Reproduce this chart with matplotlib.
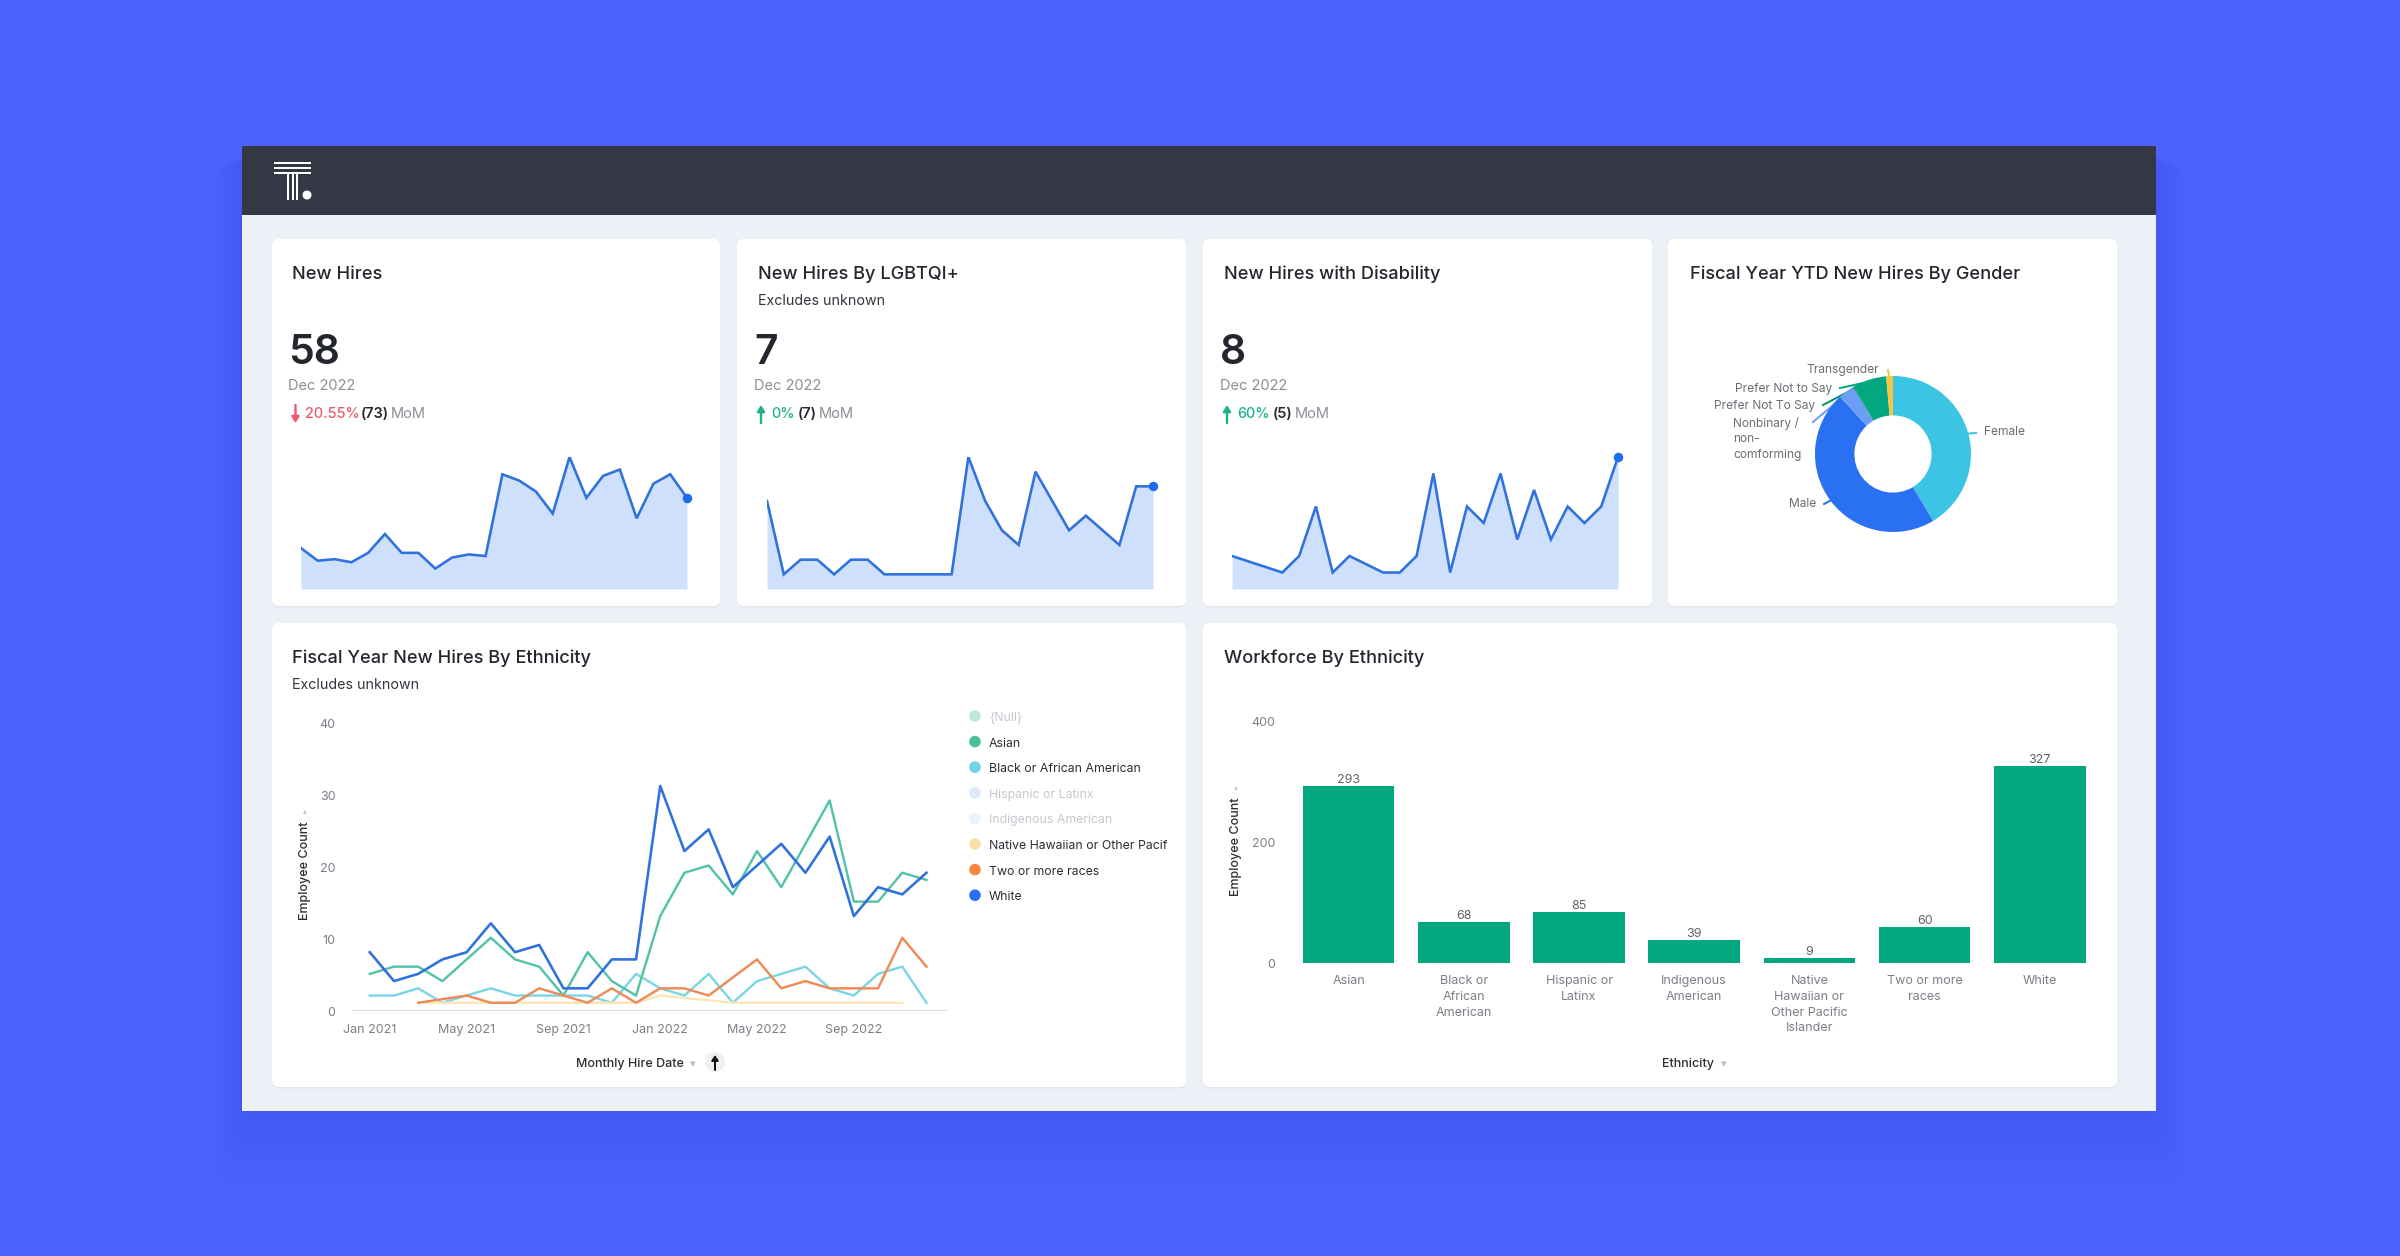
import numpy as np
import matplotlib
matplotlib.use("Agg")
import matplotlib.pyplot as plt
from matplotlib.patches import FancyBboxPatch, Rectangle, Circle
from matplotlib.transforms import Affine2D

plt.rcParams['font.family'] = ['Inter', 'DejaVu Sans']

W, H = 2400, 1256

# sparklines
new_hires = [26, 18, 19, 17, 23, 35, 23, 23, 13, 20, 22, 21, 73, 69, 62, 48, 84, 58, 72, 76, 45, 67, 73, 58]
lgbtq = [6, 1, 2, 2, 1, 2, 2, 1, 1, 1, 1, 1, 9, 6, 4, 3, 8, 6, 4, 5, 4, 3, 7, 7]
disability_months = [0, 3, 4, 5, 6, 7, 9, 10, 11, 12, 13, 14, 15, 16, 17, 18, 19, 20, 21, 22, 23]
disability = [2, 1, 2, 5, 1, 2, 1, 1, 2, 7, 1, 5, 4, 7, 3, 6, 3, 5, 4, 5, 8]

# donut
gender_names = ['Female', 'Male', 'Nonbinary /\nnon-\ncomforming', 'Prefer Not To Say', 'Prefer Not to Say', 'Transgender']
gender_share = [41.4, 46.7, 3.3, 0.2, 7.0, 1.4]
gender_colors = ['#3CC4E4', '#2970F2', '#6D9EF7', '#0A8F6F', '#03A77F', '#F6C644']

# line chart
months = list(range(24))
month_ticks = [0, 4, 8, 12, 16, 20]
month_labels = ['Jan 2021', 'May 2021', 'Sep 2021', 'Jan 2022', 'May 2022', 'Sep 2022']
white = [8, 4, 5, 7, 8, 12, 8, 9, 3, 3, 7, 7, 31, 22, 25, 17, 20, 23, 19, 24, 13, 17, 16, 19]
asian = [5, 6, 6, 4, 7, 10, 7, 6, 2, 8, 4, 2, 13, 19, 20, 16, 22, 17, 23, 29, 15, 15, 19, 18]
black = [2, 2, 3, 1, 2, 3, 2, 2, 2, 2, 1, 5, 3, 2, 5, 1, 4, 5, 6, 3, 2, 5, 6, 1]
two_months = [2, 4, 5, 6, 7, 8, 9, 10, 11, 12, 13, 14, 16, 17, 18, 19, 20, 21, 22, 23]
two_more = [1, 2, 1, 1, 3, 2, 1, 3, 1, 3, 3, 2, 7, 3, 4, 3, 3, 3, 10, 6]
native_months = [2, 3, 4, 5, 6, 7, 8, 9, 10, 11, 12, 15, 16, 17, 18, 19, 20, 21, 22]
native = [1, 1, 1, 1, 1, 1, 1, 1, 1, 1, 2, 1, 1, 1, 1, 1, 1, 1, 1]

legend_names = ['{Null}', 'Asian', 'Black or African American', 'Hispanic or Latinx', 'Indigenous American',
                'Native Hawaiian or Other Pacif', 'Two or more races', 'White']
legend_colors = ['#BCE8DA', '#48BF9D', '#70D2EA', '#DDE8FB', '#E8F3FB', '#FBE2A6', '#FB8640', '#2970F2']
legend_faded = [True, False, False, True, True, False, False, False]

# bars
ethnicity = ['Asian', 'Black or\nAfrican\nAmerican', 'Hispanic or\nLatinx', 'Indigenous\nAmerican',
             'Native\nHawaiian or\nOther Pacific\nIslander', 'Two or more\nraces', 'White']
workforce = [293, 68, 85, 39, 9, 60, 327]

BLUE_LINE = '#2F72DE'
GRAY = '#7C7F87'
DARK = '#23262D'


def px_axes(left, top, right, bottom):
    return fig.add_axes([left / W, 1 - bottom / H, (right - left) / W, (bottom - top) / H])


def pt(px):
    return px * 0.72


def put(x, y, s, **kw):
    # centre of a line sits a bit low in the reference, so nudge it
    kw.setdefault('va', 'center')
    return bg.text(x, y + 2, s, **kw)


def spark(left, right, xs, ys):
    ax = px_axes(left, 457, right, 589)
    ax.fill_between(xs, ys, 0, color='#CFE0FC', lw=0)
    ax.plot(xs, ys, color=BLUE_LINE, lw=pt(2.6), solid_joinstyle='miter')
    ax.plot(xs[-1:], ys[-1:], 'o', color='#1E6BEE', ms=pt(9.5), mew=0, clip_on=False)
    ax.set_xlim(xs[0], xs[-1])
    ax.set_ylim(0, max(ys))
    ax.axis('off')


def kpi(x, value, delta_x, delta, delta_color, up, prev_x, prev, mom_x):
    put(x, 347, value, fontsize=pt(41), fontweight=600, color=DARK, va='center_baseline')
    put(x, 384, 'Dec 2022', fontsize=pt(14.6), color='#8B8E95')
    ax_x = delta_x - 10
    start, end = (423, 405) if up else (405, 423)
    bg.annotate('', xy=(ax_x, end), xytext=(ax_x, start),
                arrowprops=dict(arrowstyle='-|>,head_width=0.22,head_length=0.35', color=delta_color, lw=pt(2.4),
                                shrinkA=0, shrinkB=0))
    put(delta_x, 412, delta, fontsize=pt(14.4), fontweight=500, color=delta_color)
    put(prev_x, 412, prev, fontsize=pt(14.4), fontweight=600, color=DARK)
    put(mom_x, 412, 'MoM', fontsize=pt(14.6), color='#8B8E95')


fig = plt.figure(figsize=(W / 100, H / 100), dpi=100, facecolor='#4D62FF')
bg = fig.add_axes([0, 0, 1, 1])
bg.set_xlim(0, W)
bg.set_ylim(H, 0)
bg.axis('off')

# soft shadow round the dashboard
for grow in range(70, 0, -7):
    bg.add_patch(FancyBboxPatch((242 - grow / 2, 146 + grow / 4), 1914 + grow, 965 + grow, boxstyle='round,pad=0,rounding_size=30',
                                fc='#2F3FD8', ec='none', alpha=0.025))

bg.add_patch(Rectangle((242, 146), 1914, 965, fc='#EDF0F7', ec='none'))
bg.add_patch(Rectangle((242, 146), 1914, 69, fc='#333844', ec='none'))

# logo
for y in [163, 168, 173]:
    bg.add_patch(Rectangle((274, y - 1), 37, 2.2, fc='white', ec='none'))
for x in [288, 293, 297]:
    bg.add_patch(Rectangle((x - 1, 173), 2.2, 27, fc='white', ec='none'))
bg.add_patch(Circle((307, 195), 4.5, fc='white', ec='none'))

# cards
for l, t, r, b in [(272, 239, 720, 606), (737, 239, 1186, 606), (1203, 239, 1652, 606), (1668, 239, 2117, 606),
                   (272, 623, 1186, 1087), (1203, 623, 2117, 1087)]:
    bg.add_patch(FancyBboxPatch((l, t + 1.5), r - l, b - t, boxstyle='round,pad=0,rounding_size=7', fc='#E2E5EC', ec='none'))
    bg.add_patch(FancyBboxPatch((l, t), r - l, b - t, boxstyle='round,pad=0,rounding_size=7', fc='white', ec='none'))

titles = [(292, 270.5, 'New Hires'), (758, 270.5, 'New Hires By LGBTQI+'), (1224, 270.5, 'New Hires with Disability'),
          (1690, 270.5, 'Fiscal Year YTD New Hires By Gender'), (292, 654.5, 'Fiscal Year New Hires By Ethnicity'),
          (1224, 654.5, 'Workforce By Ethnicity')]
for x, y, s in titles:
    put(x, y, s, fontsize=pt(18.2), fontweight=500, color=DARK, va='center_baseline')
for x, y in [(758, 299), (292, 683)]:
    put(x, y, 'Excludes unknown', fontsize=pt(14.2), color='#33363D')

kpi(288, '58', 305.5, '20.55%', '#EE5A6B', False, 361, '(73)', 391)
kpi(754, '7', 771, '0%', '#19B38A', True, 798, '(7)', 819)
kpi(1220, '8', 1237, '60%', '#19B38A', True, 1273, '(5)', 1295)

spark(301, 687, months, new_hires)
spark(767, 1153, months, lgbtq)
spark(1232, 1618, disability_months, disability)

# donut
R = 78
cx, cy = 1893, 454
dn = px_axes(cx - R, cy - R, cx + R, cy + R)
dn.pie(gender_share, colors=gender_colors, startangle=90, counterclock=False, radius=1,
       wedgeprops=dict(width=0.505, lw=0))
dn.set_xlim(-1, 1)
dn.set_ylim(-1, 1)

label_spots = [(1984, 431, 'left', 1976, 433), (1816, 503, 'right', 1824, 504), (1733, 438, 'left', 1813, 422),
               (1815, 405, 'right', 1823, 405), (1832, 388, 'right', 1840, 388), (1879, 369, 'right', 1888, 370)]
angle = 0
for name, share, color, spot in zip(gender_names, gender_share, gender_colors, label_spots):
    mid = np.radians(angle + share * 3.6 / 2)
    angle += share * 3.6
    tx, ty, ha, lx, ly = spot
    put(tx, ty - 1, name, fontsize=pt(12), color='#6B6E75', ha=ha, linespacing=1.35)
    bg.plot([lx, cx + (R - 2) * np.sin(mid)], [ly, cy - (R - 2) * np.cos(mid)], color=color, lw=pt(2))

# line chart
ln = px_axes(351.5, 721, 945.6, 1010)
ln.plot(months, black, color='#7AD6E4', lw=pt(2.4))
ln.plot(native_months, native, color='#FBE6B8', lw=pt(2.4))
ln.plot(months, asian, color='#52C2A8', lw=pt(2.4))
ln.plot(two_months, two_more, color='#EF8A57', lw=pt(2.4))
ln.plot(months, white, color=BLUE_LINE, lw=pt(2.6))
ln.set_xlim(-0.756, 23.79)
ln.set_ylim(0, 40)
ln.set_xticks(month_ticks, month_labels)
ln.set_yticks([0, 10, 20, 30, 40])
for s in ['top', 'right', 'left']:
    ln.spines[s].set_visible(False)
ln.spines['bottom'].set_color('#DADDE3')
ln.tick_params(axis='both', length=0, labelsize=pt(12.5), labelcolor=GRAY)
ln.tick_params(axis='y', pad=pt(16))
ln.tick_params(axis='x', pad=pt(14))
for t in ln.get_yticklabels():
    t.set_va('center_baseline')
    t.set_transform(t.get_transform() + Affine2D().translate(0, -2))
put(305, 869, 'Employee Count', rotation=90, fontsize=pt(12.5), fontweight=500, color='#2B2E35', ha='center')
put(305, 809, '▸', rotation=90, fontsize=pt(8), color='#C4C6CC', ha='center')
put(629.5, 1062, 'Monthly Hire Date', fontsize=pt(12.5), fontweight=500, color='#2B2E35', ha='center')
put(693, 1062, '▾', fontsize=pt(11), color='#B9BBC2', ha='center')
bg.add_patch(Circle((715, 1062), 10, fc='#EEF0F3', ec='none'))
bg.annotate('', xy=(715, 1055), xytext=(715, 1070),
            arrowprops=dict(arrowstyle='-|>,head_width=0.2,head_length=0.3', color='#111111', lw=pt(2), shrinkA=0, shrinkB=0))

# legend
for i, (name, color, faded) in enumerate(zip(legend_names, legend_colors, legend_faded)):
    y = 716 + i * 25.6
    bg.add_patch(Circle((975, y), 5.8, fc=color, ec='none'))
    put(989, y, name, fontsize=pt(12.3), color='#C4C7CE' if faded else '#2B2E35')

# bars
br = px_axes(1291, 722, 2097.4, 963)
x_pos = np.arange(len(ethnicity))
bars = br.bar(x_pos, workforce, width=0.795, color='#03A77F')
br.bar_label(bars, padding=0, fontsize=pt(12.5), color='#5F6269')
br.set_xlim(-0.5, 6.5)
br.set_ylim(0, 400)
br.set_xticks(x_pos, ethnicity, linespacing=1.42)
br.set_yticks([0, 200, 400])
for s in br.spines.values():
    s.set_visible(False)
br.tick_params(axis='both', length=0, labelsize=pt(12.5), labelcolor=GRAY)
br.tick_params(axis='y', pad=pt(16))
br.tick_params(axis='x', pad=pt(12))
put(1236, 845, 'Employee Count', rotation=90, fontsize=pt(12.5), fontweight=500, color='#2B2E35', ha='center')
put(1236, 785, '▸', rotation=90, fontsize=pt(8), color='#C4C6CC', ha='center')
put(1688, 1062, 'Ethnicity', fontsize=pt(12.5), fontweight=500, color='#2B2E35', ha='center')
put(1724, 1062, '▾', fontsize=pt(11), color='#B9BBC2', ha='center')

fig.savefig('out.png', dpi=100)
